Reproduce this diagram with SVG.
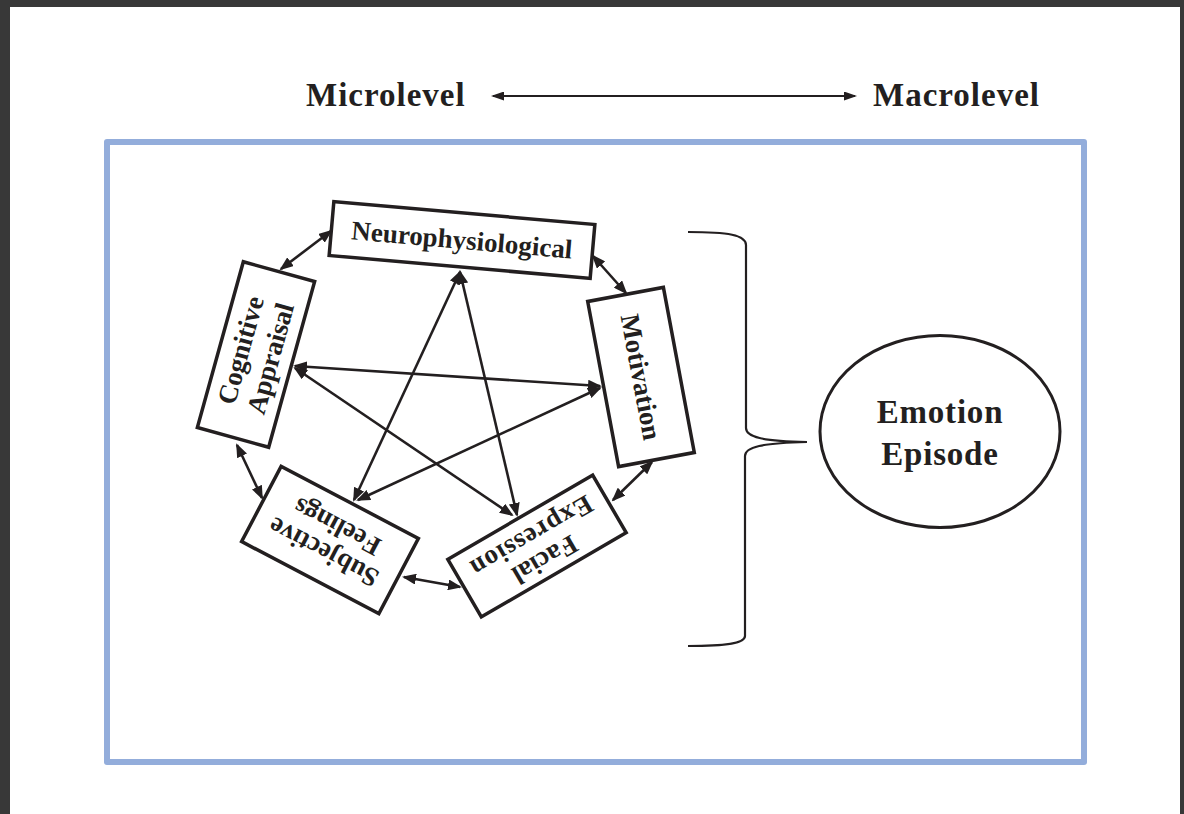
<svg xmlns="http://www.w3.org/2000/svg" width="1184" height="814" viewBox="0 0 1184 814">
  <style>
    .bold { font-family: "Liberation Serif", "Times New Roman", serif; font-weight: bold; fill: #231f20; }
    .title { font-size: 33px; letter-spacing: 1px; }
    .lbl { font-size: 27px; text-anchor: middle; }
    .big { font-size: 33px; letter-spacing: 0.8px; }
    .box { fill: #ffffff; stroke: #231f20; stroke-width: 3.5; }
    .link { stroke: #231f20; stroke-width: 2.6; fill: none; marker-start: url(#head); marker-end: url(#head); }
    .scale { stroke: #231f20; stroke-width: 2.2; fill: none; marker-start: url(#headSmall); marker-end: url(#headSmall); }
  </style>
  <defs>
    <marker id="head" viewBox="0 0 14 11" refX="12" refY="5.5" markerWidth="14" markerHeight="11" markerUnits="userSpaceOnUse" orient="auto-start-reverse">
      <path d="M0,0 L14,5.5 L0,11 Z" fill="#231f20"/>
    </marker>
    <marker id="headSmall" viewBox="0 0 13 9" refX="11" refY="4.5" markerWidth="13" markerHeight="9" markerUnits="userSpaceOnUse" orient="auto-start-reverse">
      <path d="M0,0 L13,4.5 L0,9 Z" fill="#231f20"/>
    </marker>
  </defs>

  <!-- page and viewer frame -->
  <rect x="0" y="0" width="1184" height="814" fill="#383838"/>
  <rect x="10" y="7" width="1170" height="807" fill="#ffffff"/>

  <!-- scale header -->
  <g id="scale">
    <text class="bold title" x="306" y="106">Microlevel</text>
    <text class="bold title" x="873" y="106">Macrolevel</text>
    <line class="scale" x1="493" y1="96" x2="855" y2="96"/>
  </g>

  <!-- outer frame -->
  <rect id="frame" x="107" y="142" width="977" height="620" fill="none" stroke="#93addb" stroke-width="6" stroke-linejoin="round"/>

  <!-- component links -->
  <g id="connectors">
    <line class="link" x1="281" y1="269" x2="331" y2="231"/>
    <line class="link" x1="593" y1="256" x2="626" y2="293"/>
    <line class="link" x1="652" y1="462" x2="613" y2="500"/>
    <line class="link" x1="460" y1="587" x2="404" y2="577"/>
    <line class="link" x1="262" y1="498" x2="237" y2="445"/>
    <line class="link" x1="460" y1="272" x2="354" y2="500"/>
    <line class="link" x1="460" y1="272" x2="517" y2="515"/>
    <line class="link" x1="295" y1="366" x2="600" y2="386"/>
    <line class="link" x1="295" y1="368" x2="512" y2="515"/>
    <line class="link" x1="600" y1="388" x2="358" y2="500"/>
    <!-- brace gathering the components -->
    <path d="M688 232 C728 232 746 235 746 245 L746 428 C746 437 762 441 807 442 C762 443 745 447 745 456 L745 636 C745 643 728 646 688 646" fill="none" stroke="#231f20" stroke-width="2.2"/>
  </g>

  <g id="neurophysiological" transform="translate(462 240) rotate(5)">
    <rect class="box" x="-131" y="-27" width="262" height="54"/>
    <text class="bold lbl" x="0" y="9">Neurophysiological</text>
  </g>

  <g id="motivation" transform="translate(641 377) rotate(79.4)">
    <rect class="box" x="-84" y="-38.5" width="168" height="77"/>
    <text class="bold lbl" x="0" y="9">Motivation</text>
  </g>

  <g id="cognitive-appraisal" transform="translate(256 354.5) rotate(-74.5)">
    <rect class="box" x="-86" y="-37" width="172" height="74"/>
    <text class="bold lbl" x="0" y="-7">Cognitive</text>
    <text class="bold lbl" x="0" y="24">Appraisal</text>
  </g>

  <g id="subjective-feelings" transform="translate(330 540) rotate(207.7)">
    <rect class="box" x="-77.5" y="-42.5" width="155" height="85"/>
    <text class="bold lbl" x="0" y="-5">Subjective</text>
    <text class="bold lbl" x="0" y="24">Feelings</text>
  </g>

  <g id="facial-expression" transform="translate(537 546) rotate(149.8)">
    <rect class="box" x="-83.8" y="-33.3" width="167.6" height="66.6"/>
    <text class="bold lbl" x="0" y="-7">Facial</text>
    <text class="bold lbl" x="0" y="20" letter-spacing="1">Expression</text>
  </g>

  <g id="emotion-episode">
    <ellipse cx="940" cy="431.5" rx="120" ry="96" fill="#ffffff" stroke="#231f20" stroke-width="3"/>
    <text class="bold lbl big" x="940" y="423">Emotion</text>
    <text class="bold lbl big" x="940" y="465">Episode</text>
  </g>
</svg>
